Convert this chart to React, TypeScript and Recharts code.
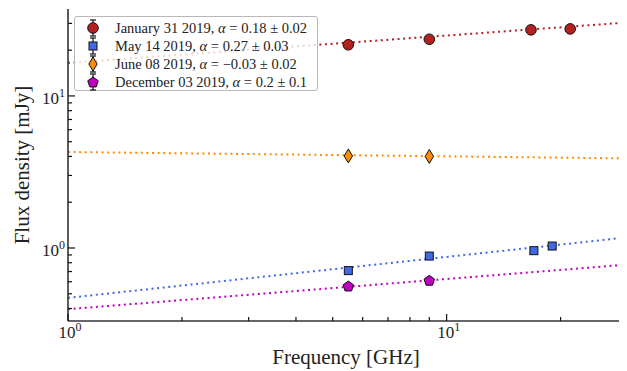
import React from 'react';
import { ComposedChart, Line, Scatter, XAxis, YAxis, Label } from 'recharts';

// measured flux densities per epoch
const janFreq = [5.5, 9.0, 16.7, 21.2];
const janFlux = [21.7, 23.6, 27.2, 27.6];
const mayFreq = [5.5, 9.0, 17.0, 19.0];
const mayFlux = [0.71, 0.885, 0.96, 1.03];
const junFreq = [5.5, 9.0];
const junFlux = [4.03, 4.0];
const decFreq = [5.5, 9.0];
const decFlux = [0.562, 0.613];

// power-law fits, straight in log-log so the two ends are enough
const fitFreq = [1, 30.5];
const janFit = [16.5, 30.5];
const mayFit = [0.47, 1.18];
const junFit = [4.28, 3.88];
const decFit = [0.396, 0.78];

const xTicks = [1, 2, 3, 4, 5, 6, 7, 8, 9, 10, 20, 30];
const yTicks = [0.4, 0.5, 0.6, 0.7, 0.8, 0.9, 1, 2, 3, 4, 5, 6, 7, 8, 9, 10, 20, 30];

const legendLabels = [
  ['January 31 2019', '0.18 \u00b1 0.02'],
  ['May 14 2019', '0.27 \u00b1 0.03'],
  ['June 08 2019', '\u22120.03 \u00b1 0.02'],
  ['December 03 2019', '0.2 \u00b1 0.1'],
];

const RED = '#b22222';
const BLUE = '#4169e1';
const ORANGE = '#ff8c00';
const MAGENTA = '#bf00bf';
const FONT = '"Liberation Serif", "DejaVu Serif", serif';

const pts = (xs: number[], ys: number[]) => xs.map((x, i) => ({ x, y: ys[i] }));

const isMajor = (v: number) => Math.abs(Math.log10(v) - Math.round(Math.log10(v))) < 1e-6;

const Circle = ({ cx, cy }: any) => (
  <circle cx={cx} cy={cy} r={5.3} fill={RED} stroke="#111" strokeWidth={1} />
);
const Square = ({ cx, cy }: any) => (
  <rect x={cx - 4} y={cy - 4} width={8} height={8} fill={BLUE} stroke="#111" strokeWidth={1} />
);
const Diamond = ({ cx, cy }: any) => (
  <polygon
    points={`${cx},${cy - 7} ${cx + 4.2},${cy} ${cx},${cy + 7} ${cx - 4.2},${cy}`}
    fill={ORANGE}
    stroke="#111"
    strokeWidth={1}
  />
);
const Pentagon = ({ cx, cy }: any) => {
  const r = 5.5;
  const p = [0, 1, 2, 3, 4]
    .map((i) => {
      const a = -Math.PI / 2 + (i * 2 * Math.PI) / 5;
      return `${cx + r * Math.cos(a)},${cy + 0.5 + r * Math.sin(a)}`;
    })
    .join(' ');
  return <polygon points={p} fill={MAGENTA} stroke="#111" strokeWidth={1} />;
};

const markers = [Circle, Square, Diamond, Pentagon];

const Pow = ({ x, y, v, anchor }: any) => (
  <text x={x} y={y} textAnchor={anchor} fontFamily={FONT} fontSize={17} fill="#222">
    10
    <tspan dy={-7} fontSize={12}>
      {Math.round(Math.log10(v))}
    </tspan>
  </text>
);

const BottomTick = ({ x, y, payload }: any) => {
  const major = isMajor(payload.value);
  return (
    <g>
      <line x1={x} y1={y} x2={x} y2={y - (major ? 7 : 4)} stroke="#111" strokeWidth={1.2} />
      {major && <Pow x={x + 2} y={y + 17} v={payload.value} anchor="middle" />}
    </g>
  );
};

const TopTick = ({ x, y, payload }: any) => {
  const major = isMajor(payload.value);
  return <line x1={x} y1={y} x2={x} y2={y + (major ? 7 : 4)} stroke="#111" strokeWidth={1.2} />;
};

const LeftTick = ({ x, y, payload }: any) => {
  const major = isMajor(payload.value);
  return (
    <g>
      <line x1={x} y1={y} x2={x + (major ? 7 : 4)} y2={y} stroke="#111" strokeWidth={1.2} />
      {major && <Pow x={x - 3} y={y + 8} v={payload.value} anchor="end" />}
    </g>
  );
};

const RightTick = ({ x, y, payload }: any) => {
  const major = isMajor(payload.value);
  return <line x1={x} y1={y} x2={x - (major ? 7 : 4)} y2={y} stroke="#111" strokeWidth={1.2} />;
};

const FreqLabel = ({ viewBox }: any) => (
  <text
    x={viewBox.x + viewBox.width / 2 - 3}
    y={viewBox.y + viewBox.height - 7}
    textAnchor="middle"
    fontFamily={FONT}
    fontSize={21}
    fill="#222"
  >
    Frequency [GHz]
  </text>
);

const LegendBox = () => (
  <div
    style={{
      position: 'absolute',
      left: 74,
      top: 16,
      width: 244,
      height: 75,
      boxSizing: 'border-box',
      border: '1px solid #b8b8b8',
      borderRadius: 3,
      background: 'rgba(255,255,255,0.8)',
      fontFamily: FONT,
      fontSize: 14.5,
      color: '#222',
    }}
  >
    {legendLabels.map(([date, alpha], i) => {
      const M = markers[i];
      return (
        <div key={date} style={{ position: 'absolute', left: 0, top: 2 + i * 18, height: 18, whiteSpace: 'nowrap' }}>
          <svg width={30} height={18} style={{ position: 'absolute', left: 4, top: 0 }}>
            <line x1={14} y1={1} x2={14} y2={17} stroke="#111" strokeWidth={1.2} />
            <line x1={11} y1={1} x2={17} y2={1} stroke="#111" strokeWidth={1.2} />
            <line x1={11} y1={17} x2={17} y2={17} stroke="#111" strokeWidth={1.2} />
            <M cx={14} cy={9} />
          </svg>
          <span style={{ position: 'absolute', left: 40, top: 0, lineHeight: '18px' }}>
            {date}, <i>&alpha;</i> = {alpha}
          </span>
        </div>
      );
    })}
  </div>
);

const axisText = { fontFamily: FONT, fontSize: 21, fill: '#222' };

export default function App() {
  return (
    <div
      style={{
        position: 'relative',
        margin: '-8px 0 0 -8px',
        width: 627,
        height: 371,
        overflow: 'hidden',
        fontFamily: FONT,
      }}
    >
      <ComposedChart width={630} height={371} margin={{ top: 9, right: 0, left: 0, bottom: 0 }} style={{ fontFamily: FONT }}>
        <XAxis
          xAxisId="b"
          dataKey="x"
          type="number"
          scale="log"
          domain={[1, 30.5]}
          allowDataOverflow
          ticks={xTicks}
          interval={0}
          tick={BottomTick}
          tickLine={false}
          tickSize={0}
          tickMargin={0}
          height={50}
          axisLine={{ stroke: '#333', strokeWidth: 1.6 }}
        >
          <Label content={FreqLabel} />
        </XAxis>
        <XAxis
          xAxisId="t"
          orientation="top"
          dataKey="x"
          type="number"
          scale="log"
          domain={[1, 30.5]}
          allowDataOverflow
          ticks={xTicks}
          interval={0}
          tick={TopTick}
          tickLine={false}
          tickSize={0}
          tickMargin={0}
          height={0}
          axisLine={{ stroke: '#333', strokeWidth: 1.6 }}
        />
        <YAxis
          yAxisId="l"
          type="number"
          scale="log"
          domain={[0.331, 37.3]}
          allowDataOverflow
          ticks={yTicks}
          interval={0}
          tick={LeftTick}
          tickLine={false}
          tickSize={0}
          tickMargin={0}
          width={68}
          axisLine={{ stroke: '#333', strokeWidth: 1.6 }}
        >
          <Label value="Flux density [mJy]" angle={-90} position="insideLeft" offset={22} style={{ ...axisText, textAnchor: 'middle' }} />
        </YAxis>
        <YAxis
          yAxisId="r"
          orientation="right"
          type="number"
          scale="log"
          domain={[0.331, 37.3]}
          allowDataOverflow
          ticks={yTicks}
          interval={0}
          tick={RightTick}
          tickLine={false}
          tickSize={0}
          tickMargin={0}
          width={0}
          axisLine={{ stroke: '#333', strokeWidth: 1.6 }}
        />

        {[
          [janFit, RED],
          [junFit, ORANGE],
          [mayFit, BLUE],
          [decFit, MAGENTA],
        ].map(([fit, color], i) => (
          <Line
            key={i}
            xAxisId="b"
            yAxisId="l"
            data={pts(fitFreq, fit as number[])}
            dataKey="y"
            type="linear"
            stroke={color as string}
            strokeWidth={2}
            strokeDasharray="2 3.6"
            dot={false}
            activeDot={false}
            isAnimationActive={false}
          />
        ))}

        <Scatter xAxisId="b" yAxisId="l" data={pts(janFreq, janFlux)} dataKey="y" shape={Circle} isAnimationActive={false} />
        <Scatter xAxisId="b" yAxisId="l" data={pts(mayFreq, mayFlux)} dataKey="y" shape={Square} isAnimationActive={false} />
        <Scatter xAxisId="b" yAxisId="l" data={pts(junFreq, junFlux)} dataKey="y" shape={Diamond} isAnimationActive={false} />
        <Scatter xAxisId="b" yAxisId="l" data={pts(decFreq, decFlux)} dataKey="y" shape={Pentagon} isAnimationActive={false} />
      </ComposedChart>
      <LegendBox />
    </div>
  );
}
